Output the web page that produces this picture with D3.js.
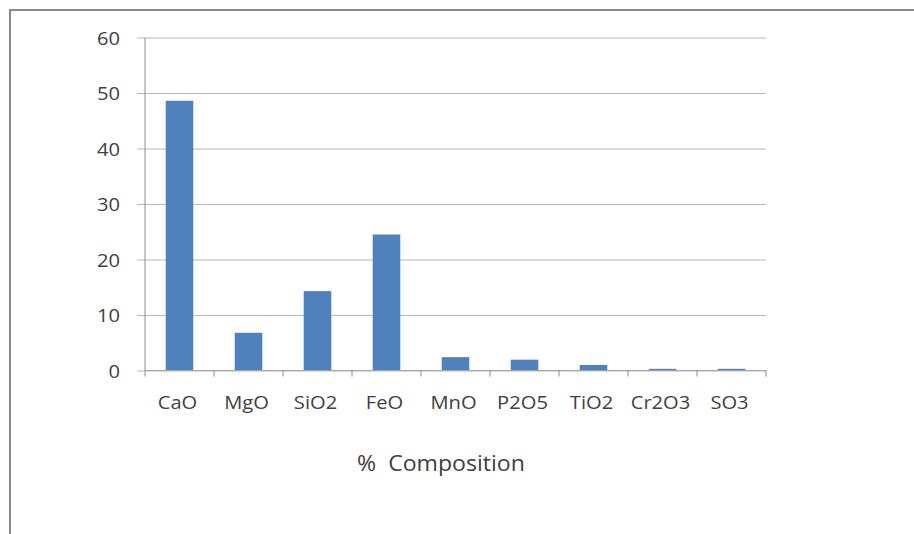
<!DOCTYPE html>
<html>
<head>
<meta charset="utf-8">
<script src="https://cdn.jsdelivr.net/npm/d3@7"></script>
<style>
  html, body { margin: 0; padding: 0; background: #fff; }
  svg { display: block; }
  text { font-family: "Open Sans", sans-serif; fill: #404040; }
</style>
</head>
<body>
<script>
// Oxide composition (% by weight)
const categories = ["CaO", "MgO", "SiO2", "FeO", "MnO", "P2O5", "TiO2", "Cr2O3", "SO3"];
const values = [48.6, 6.8, 14.3, 24.5, 2.4, 1.95, 1.0, 0.3, 0.3];
const yTicks = [0, 10, 20, 30, 40, 50, 60];
const axisTitle = "% \u00a0Composition";

const W = 914, H = 534;
const plot = { left: 145, right: 766, top: 37.5, bottom: 370.5 };
const stretch = 1.06; // slightly wide lettering

const svg = d3.select("body").append("svg")
  .attr("width", W).attr("height", H);

// chart-area frame
svg.append("rect")
  .attr("x", 10).attr("y", 10)
  .attr("width", W + 20).attr("height", H + 20)
  .attr("fill", "none")
  .attr("stroke", "#8a8a8a")
  .attr("stroke-width", 2);

const x = d3.scaleBand()
  .domain(categories)
  .range([plot.left, plot.right])
  .paddingInner(0.6)
  .paddingOuter(0.3);

const xBoundary = d3.scaleLinear()
  .domain([0, categories.length])
  .range([plot.left, plot.right]);

const y = d3.scaleLinear()
  .domain([0, 60])
  .range([plot.bottom, plot.top]);

// horizontal gridlines with outside ticks
const yAxis = d3.axisLeft(y)
  .tickValues(yTicks)
  .tickSize(-(plot.right - plot.left))
  .tickPadding(0)
  .tickFormat(d3.format("d"));

const gy = svg.append("g")
  .attr("transform", `translate(${plot.left},0)`)
  .call(yAxis);
gy.select(".domain").remove();
gy.selectAll(".tick line")
  .attr("x1", -8)
  .attr("stroke", "#b8b8b8")
  .attr("stroke-width", 1.2);
gy.selectAll(".tick text")
  .attr("x", 0)
  .attr("dy", "0.36em")
  .attr("transform", `translate(-25,0) scale(${stretch},1)`)
  .attr("font-size", 19)
  .style("fill", "#404040");

// vertical axis line
svg.append("line")
  .attr("x1", plot.left).attr("x2", plot.left)
  .attr("y1", y(60)).attr("y2", plot.bottom)
  .attr("stroke", "#8c8c8c").attr("stroke-width", 1);

// bars
svg.append("g").selectAll("rect")
  .data(categories.map((c, i) => ({ c, v: values[i] })))
  .join("rect")
  .attr("x", d => x(d.c))
  .attr("width", x.bandwidth())
  .attr("y", d => y(d.v))
  .attr("height", d => y(0) - y(d.v))
  .attr("fill", "#4f81bd");

// category axis
const gx = svg.append("g")
  .attr("transform", `translate(0,${plot.bottom})`);
gx.append("line")
  .attr("x1", plot.left).attr("x2", plot.right)
  .attr("stroke", "#a6a6a6").attr("stroke-width", 1.2);
gx.selectAll("line.tick")
  .data(d3.range(categories.length + 1))
  .join("line")
  .attr("class", "tick")
  .attr("x1", d => xBoundary(d)).attr("x2", d => xBoundary(d))
  .attr("y1", 0).attr("y2", 6)
  .attr("stroke", "#8c8c8c");
gx.selectAll("text")
  .data(categories)
  .join("text")
  .attr("transform", d => `translate(${x(d) + x.bandwidth() / 2 - 2},38) scale(${stretch},1)`)
  .attr("text-anchor", "middle")
  .attr("font-size", 19)
  .text(d => d);

// axis title
svg.append("text")
  .attr("transform", `translate(441,471) scale(1.1,1)`)
  .attr("text-anchor", "middle")
  .attr("font-size", 21)
  .text(axisTitle);
</script>
</body>
</html>
